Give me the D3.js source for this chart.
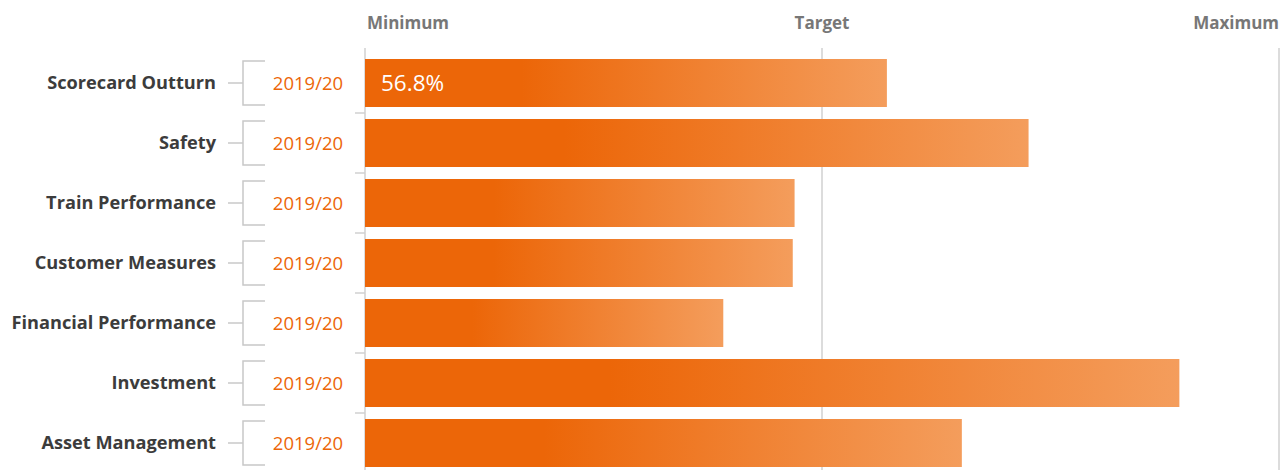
<!DOCTYPE html>
<html>
<head>
<meta charset="utf-8">
<script src="https://cdn.jsdelivr.net/npm/d3@7"></script>
<style>
  body { margin: 0; background: #fff; font-family: "Open Sans", sans-serif; }
</style>
</head>
<body>
<div id="chart"></div>
<script>
// data
var categories = ["Scorecard Outturn", "Safety", "Train Performance", "Customer Measures",
                  "Financial Performance", "Investment", "Asset Management"]
var period = "2019/20"
var values = [57.1, 72.6, 47.0, 46.8, 39.2, 89.1, 65.3]
var valueLabels = ["56.8%", "", "", "", "", "", ""]
var markers = ["Minimum", "Target", "Maximum"]
var markerValues = [0, 50, 100]

var width = 1280, height = 470

var svg = d3.select("#chart").append("svg")
    .attr("width", width)
    .attr("height", height)

var x = d3.scaleLinear().domain([0, 100]).range([365, 1279])
var y = d3.scaleBand().domain(categories).range([53, 473]).paddingInner(0.2).paddingOuter(0.1)

//Gradient for the bars
var grad = svg.append("defs").append("linearGradient")
    .attr("id", "barGrad")
    .attr("x1", "0%").attr("x2", "100%")
grad.append("stop").attr("offset", "0%").attr("stop-color", "#ec6608")
grad.append("stop").attr("offset", "30%").attr("stop-color", "#ec6608")
grad.append("stop").attr("offset", "100%").attr("stop-color", "#f49d5c")

//Reference lines
svg.selectAll(".refline")
    .data(markerValues)
    .enter()
    .append("line")
    .attr("x1", d => x(d)).attr("x2", d => x(d))
    .attr("y1", 48).attr("y2", height)
    .attr("stroke", "#d0d0d0")
    .attr("stroke-width", 1.5)

svg.selectAll(".reflabel")
    .data(markers)
    .enter()
    .append("text")
    .attr("x", (d, i) => x(markerValues[i]) + (i == 0 ? 43 : 0))
    .attr("y", 29)
    .attr("text-anchor", (d, i) => i == 2 ? "end" : "middle")
    .attr("fill", "#777")
    .style("font-size", "17px")
    .style("font-weight", "bold")
    .text(d => d)

//Small ticks between rows on the minimum line
var step = y.step()
svg.selectAll(".tick")
    .data(categories)
    .enter()
    .append("line")
    .attr("x1", x(0) - 10).attr("x2", x(0))
    .attr("y1", d => y(d) + y.bandwidth() + (step - y.bandwidth()) / 2)
    .attr("y2", d => y(d) + y.bandwidth() + (step - y.bandwidth()) / 2)
    .attr("stroke", "#d0d0d0")
    .attr("stroke-width", 1.5)

//Bars
svg.selectAll(".bar")
    .data(values)
    .enter()
    .append("rect")
    .attr("x", x(0))
    .attr("y", (d, i) => y(categories[i]))
    .attr("width", d => x(d) - x(0))
    .attr("height", y.bandwidth())
    .attr("fill", "url(#barGrad)")

svg.selectAll(".vlabel")
    .data(valueLabels)
    .enter()
    .append("text")
    .attr("x", x(0) + 16)
    .attr("y", (d, i) => y(categories[i]) + y.bandwidth() / 2 + 8)
    .attr("fill", "#fff")
    .style("font-size", "22.5px")
    .text(d => d)

//Row labels with the brackets
var rows = svg.selectAll(".row")
    .data(categories)
    .enter()
    .append("g")
    .attr("transform", d => "translate(0," + (y(d) + y.bandwidth() / 2) + ")")

rows.append("text")
    .attr("x", 216)
    .attr("y", 6)
    .attr("text-anchor", "end")
    .attr("fill", "#3c3c3c")
    .style("font-size", "18.2px")
    .style("font-weight", "bold")
    .text(d => d)

rows.append("line")
    .attr("x1", 228).attr("x2", 243)
    .attr("y1", 0).attr("y2", 0)
    .attr("stroke", "#c8c8c8")
    .attr("stroke-width", 1.5)

rows.append("path")
    .attr("d", "M265,-22H243V22H265")
    .attr("fill", "none")
    .attr("stroke", "#c8c8c8")
    .attr("stroke-width", 1.5)

rows.append("text")
    .attr("x", 308)
    .attr("y", 7)
    .attr("text-anchor", "middle")
    .attr("fill", "#ec6608")
    .style("font-size", "18.5px")
    .text(period)
</script>
</body>
</html>
